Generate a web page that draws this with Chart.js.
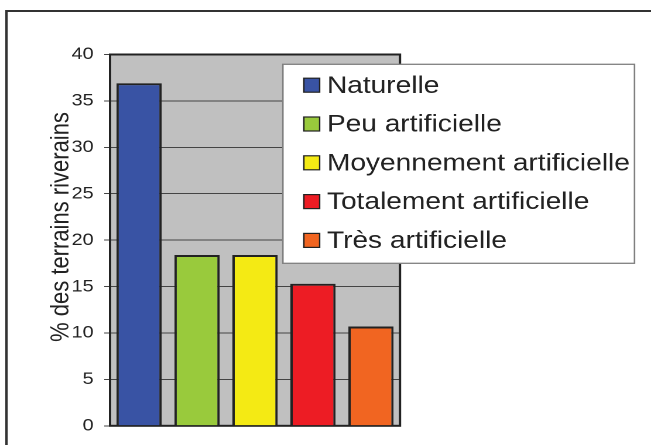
<!DOCTYPE html>
<html>
<head>
<meta charset="utf-8">
<title>Terrains riverains</title>
<script src="https://cdn.jsdelivr.net/npm/chart.js@4"></script>
<style>
  html, body { margin: 0; padding: 0; background: #fff; overflow: hidden; }
  /* the figure is drawn narrow and stretched sideways, like the printed original */
  #wrap { width: 556px; height: 445px; transform: scaleX(1.1709); transform-origin: 0 0; }
</style>
</head>
<body>
<div id="wrap"><canvas id="chart"></canvas></div>
<script>
const categories = ['Naturelle', 'Peu artificielle', 'Moyennement artificielle', 'Totalement artificielle', 'Très artificielle'];
const shares = [36.9, 18.4, 18.4, 15.3, 10.7];
const barColors = ['#3953a4', '#99ca3c', '#f4ea14', '#ed1c24', '#f16521'];
const yTicks = [0, 5, 10, 15, 20, 25, 30, 35, 40];
const yTitle = '% des terrains riverains';

const FONT = "'Liberation Sans', Arial, sans-serif";

// frame, grey plot area, border, axis title and the boxed legend
const decor = {
    id: 'decor',
    beforeDraw(chart) {
        const { ctx, chartArea: a, width, height } = chart;
        ctx.save();
        ctx.fillStyle = '#fff';
        ctx.fillRect(0, 0, width, height);
        ctx.strokeStyle = '#333';
        ctx.lineWidth = 2;
        ctx.beginPath();
        ctx.moveTo(5.5, height);
        ctx.lineTo(5.5, 11);
        ctx.lineTo(width, 11);
        ctx.stroke();
        ctx.fillStyle = '#c0c0c0';
        ctx.fillRect(a.left, a.top, a.right - a.left, a.bottom - a.top);
        ctx.restore();
    },
    beforeDatasetsDraw(chart) {
        const { ctx, chartArea: a } = chart;
        ctx.save();
        ctx.strokeStyle = '#222';
        ctx.lineWidth = 2;
        ctx.strokeRect(a.left, a.top, a.right - a.left, a.bottom - a.top);
        ctx.restore();
    },
    afterDraw(chart) {
        const { ctx } = chart;
        ctx.save();

        // y axis title
        ctx.translate(52.5, 227);
        ctx.rotate(-Math.PI / 2);
        ctx.font = '22px ' + FONT;
        ctx.fillStyle = '#222';
        ctx.textAlign = 'center';
        ctx.textBaseline = 'middle';
        ctx.fillText(yTitle, 0, 0);
        ctx.setTransform(1, 0, 0, 1, 0, 0);
        ctx.restore();

        ctx.save();
        const box = { x: 241.6, y: 64.3, w: 300.3, h: 199 };
        ctx.fillStyle = '#fff';
        ctx.fillRect(box.x, box.y, box.w, box.h);
        ctx.strokeStyle = '#808080';
        ctx.lineWidth = 1.3;
        ctx.strokeRect(box.x, box.y, box.w, box.h);

        const ds = chart.data.datasets[0];
        ctx.font = '24px ' + FONT;
        ctx.textAlign = 'left';
        ctx.textBaseline = 'middle';
        chart.data.labels.forEach((label, i) => {
            const cy = box.y + 20.9 + i * 38.8;
            ctx.fillStyle = ds.backgroundColor[i];
            ctx.fillRect(259.5, cy - 7, 13.5, 14);
            ctx.strokeStyle = '#222';
            ctx.lineWidth = 1.2;
            ctx.strokeRect(259.5, cy - 7, 13.5, 14);
            ctx.fillStyle = '#222';
            ctx.fillText(label, 279.2, cy + 1);
        });
        ctx.restore();
    }
};

const ctx = document.getElementById('chart').getContext('2d');
new Chart(ctx, {
    type: 'bar',
    data: {
        labels: categories,
        datasets: [{
            label: yTitle,
            data: shares,
            backgroundColor: barColors,
            borderColor: '#222',
            borderWidth: 2,
            barPercentage: 0.78,
            categoryPercentage: 1,
        }],
    },
    options: {
        responsive: true,
        maintainAspectRatio: false,
        animation: false,
        devicePixelRatio: 2,
        layout: { padding: { left: 0, top: 54.5, right: 214.4, bottom: 19 } },
        plugins: {
            legend: { display: false },
            tooltip: { enabled: false },
        },
        scales: {
            x: { display: false },
            y: {
                min: 0,
                max: 40,
                afterBuildTicks: (scale) => { scale.ticks = yTicks.map(v => ({ value: v })); },
                afterFit: (scale) => { scale.width = 94; },
                border: { display: false },
                grid: { color: '#444', lineWidth: 1, tickLength: 5, drawTicks: true },
                ticks: {
                    color: '#222',
                    padding: 9,
                    font: { family: FONT, size: 17 },
                },
            },
        },
    },
    plugins: [decor],
});
</script>
</body>
</html>
